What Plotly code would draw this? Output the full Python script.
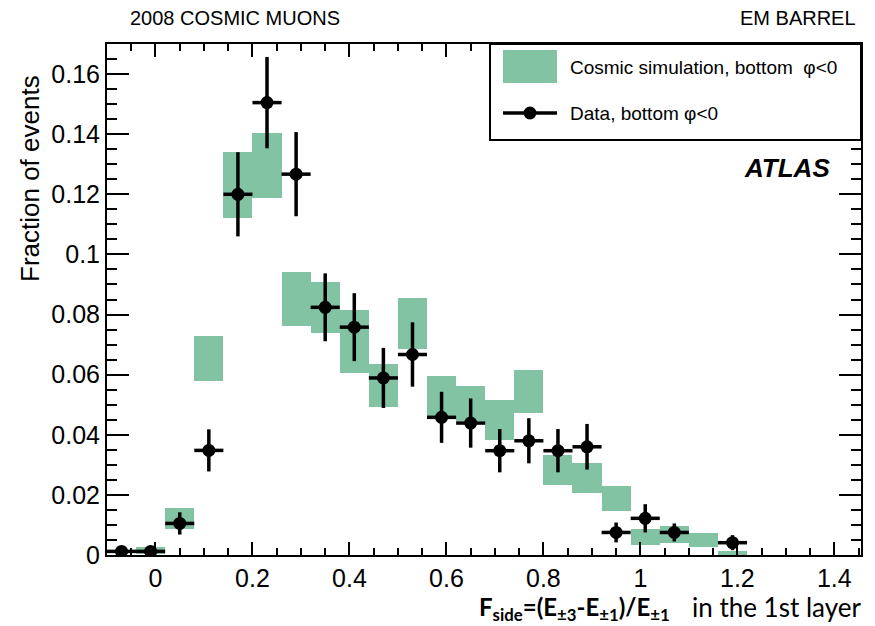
import plotly.graph_objects as go

# ---------------- data ----------------
bin_width = 0.06
sim_x = [-0.01, 0.05, 0.11, 0.17, 0.23, 0.29, 0.35, 0.41, 0.47, 0.53, 0.59, 0.65,
         0.71, 0.77, 0.83, 0.89, 0.95, 1.01, 1.07, 1.13, 1.19]
sim_center = [0.0015, 0.0122, 0.0654, 0.1230, 0.1297, 0.0853, 0.0823, 0.0710, 0.0563,
              0.0770, 0.0530, 0.0505, 0.0450, 0.0544, 0.0283, 0.0255, 0.0189, 0.0060,
              0.0067, 0.0049, 0.0007]
sim_err = [0.0012, 0.0035, 0.0076, 0.0110, 0.0108, 0.0090, 0.0086, 0.0105, 0.0072,
           0.0085, 0.0066, 0.0058, 0.0067, 0.0072, 0.0050, 0.0050, 0.0042, 0.0027,
           0.0028, 0.0023, 0.0007]

data_x = [-0.07, -0.01, 0.05, 0.11, 0.17, 0.23, 0.29, 0.35, 0.41, 0.47, 0.53, 0.59,
          0.65, 0.71, 0.77, 0.83, 0.89, 0.95, 1.01, 1.07, 1.19]
data_y = [0.0012, 0.0012, 0.0105, 0.0348, 0.1200, 0.1505, 0.1267, 0.0824, 0.0758,
          0.0589, 0.0667, 0.0458, 0.0439, 0.0347, 0.0380, 0.0347, 0.0360, 0.0075,
          0.0122, 0.0075, 0.0041]
data_err = [0.0008, 0.0008, 0.0037, 0.0070, 0.0140, 0.0152, 0.0140, 0.0113, 0.0113,
            0.0100, 0.0107, 0.0085, 0.0082, 0.0072, 0.0075, 0.0072, 0.0076, 0.0033,
            0.0047, 0.0030, 0.0025]

x_tickvals = [0, 0.2, 0.4, 0.6, 0.8, 1.0, 1.2, 1.4]
x_ticktext = ["0", "0.2", "0.4", "0.6", "0.8", "1", "1.2", "1.4"]
y_tickvals = [0, 0.02, 0.04, 0.06, 0.08, 0.10, 0.12, 0.14, 0.16]
y_ticktext = ["0", "0.02", "0.04", "0.06", "0.08", "0.1", "0.12", "0.14", "0.16"]

GREEN = "rgb(130,195,163)"
W, H = 875, 626
ML, MR, MT, MB = 107, 14, 44, 71
PW, PH = W - ML - MR, H - MT - MB


def px(x):
    return (x - ML) / PW


def py(y):
    return (H - MB - y) / PH


fig = go.Figure()

fig.add_trace(go.Bar(
    x=sim_x,
    y=[2 * e for e in sim_err],
    base=[c - e for c, e in zip(sim_center, sim_err)],
    width=bin_width,
    marker=dict(color=GREEN, line=dict(width=0)),
    showlegend=False,
    hoverinfo="skip",
))

fig.add_trace(go.Scatter(
    x=data_x, y=data_y, mode="markers",
    marker=dict(color="black", size=13),
    error_y=dict(type="data", array=data_err, color="black", thickness=3.5, width=0),
    error_x=dict(type="constant", value=bin_width / 2, color="black", thickness=3.5, width=0),
    showlegend=False,
))

tickfont = dict(family="Liberation Sans, Arial, sans-serif", size=25, color="black")

fig.update_xaxes(
    range=[-0.1, 1.455], showgrid=False, zeroline=False,
    showline=True, linecolor="black", linewidth=2, mirror="allticks",
    ticks="inside", ticklen=13, tickwidth=2, tickcolor="black",
    tickvals=x_tickvals, ticktext=x_ticktext, tickfont=tickfont,
    minor=dict(ticks="inside", dtick=0.05, tick0=0, ticklen=7, tickwidth=2, tickcolor="black"),
)
fig.update_yaxes(
    range=[0, 0.17], showgrid=False, zeroline=False,
    showline=True, linecolor="black", linewidth=2, mirror="allticks",
    ticks="inside", ticklen=22, tickwidth=2, tickcolor="black",
    tickvals=y_tickvals, ticktext=y_ticktext, tickfont=tickfont,
    minor=dict(ticks="inside", dtick=0.005, tick0=0, ticklen=10, tickwidth=2, tickcolor="black"),
)

txtfont = dict(family="Liberation Sans, Arial, sans-serif", color="black")

annotations = [
    dict(x=px(128), y=py(18), text="2008 COSMIC MUONS", xanchor="left", yanchor="middle",
         font=dict(size=20, **txtfont)),
    dict(x=px(858), y=py(18), text="EM BARREL", xanchor="right", yanchor="middle",
         font=dict(size=20, **txtfont)),
    dict(x=px(30), y=py(179), text="Fraction of events", textangle=-90,
         xanchor="center", yanchor="middle", font=dict(size=26, **txtfont)),
    dict(x=px(832), y=py(168), text="<b><i>ATLAS</i></b>", xanchor="right", yanchor="middle",
         font=dict(size=26, **txtfont)),
    dict(x=px(477), y=py(608),
         text="<b>F<sub>side</sub>=(E<sub>±3</sub>-E<sub>±1</sub>)/E<sub>±1</sub></b>",
         xanchor="left", yanchor="middle",
         font=dict(family="Lato, Open Sans, sans-serif", size=24, color="black")),
    dict(x=px(863), y=py(607),
         text="in the 1st layer",
         xanchor="right", yanchor="middle",
         font=dict(family="Lato, Open Sans, sans-serif", size=26, color="black")),
    dict(x=px(568), y=py(67), text="Cosmic simulation, bottom  φ<0", xanchor="left",
         yanchor="middle", font=dict(size=19, **txtfont)),
    dict(x=px(568), y=py(113), text="Data, bottom φ<0", xanchor="left",
         yanchor="middle", font=dict(size=19, **txtfont)),
]
for a in annotations:
    a.update(xref="paper", yref="paper", showarrow=False)

shapes = [
    # legend box
    dict(type="rect", x0=px(490), x1=px(861), y0=py(140), y1=py(44),
         line=dict(color="black", width=2), fillcolor="white", layer="above"),
    # simulation key
    dict(type="rect", x0=px(503), x1=px(557), y0=py(83), y1=py(50),
         line=dict(width=0), fillcolor=GREEN, layer="above"),
    # data key line
    dict(type="line", x0=px(503), x1=px(557), y0=py(113), y1=py(113),
         line=dict(color="black", width=3.5), layer="above"),
    # data key marker
    dict(type="circle", x0=px(523.5), x1=px(536.5), y0=py(119.5), y1=py(106.5),
         line=dict(width=0), fillcolor="black", layer="above"),
]
for s in shapes:
    s.update(xref="paper", yref="paper")

fig.update_layout(
    width=W, height=H,
    margin=dict(l=ML, r=MR, t=MT, b=MB, pad=0),
    plot_bgcolor="white", paper_bgcolor="white",
    annotations=annotations, shapes=shapes,
    showlegend=False, bargap=0,
)

fig.write_html("out.html")
